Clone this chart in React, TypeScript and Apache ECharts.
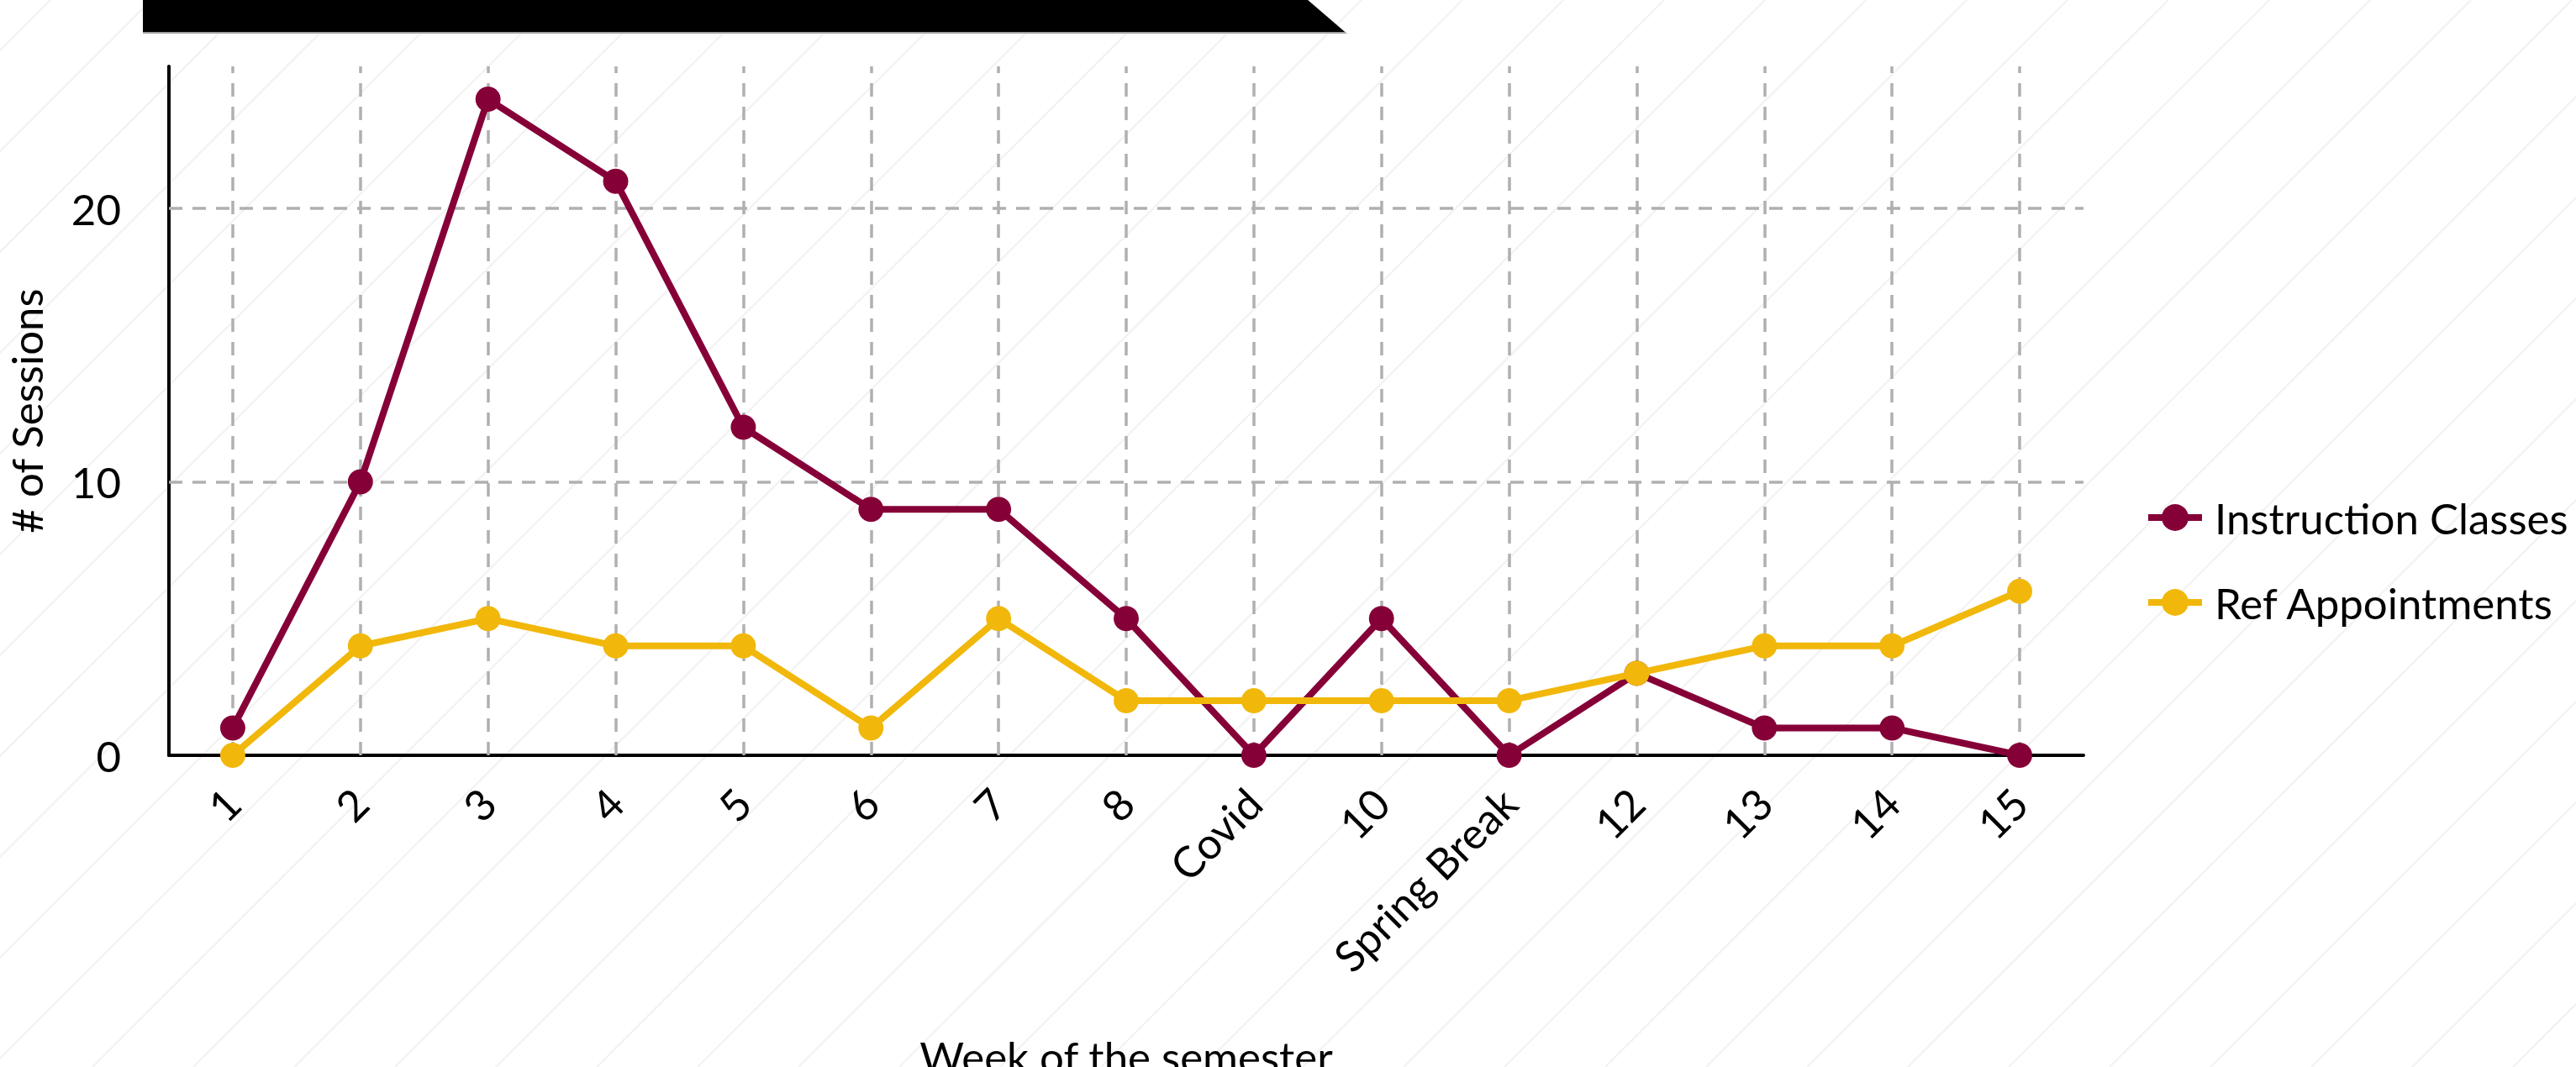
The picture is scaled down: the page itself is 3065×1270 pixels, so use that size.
import React, { useEffect, useRef } from 'react';
import * as echarts from 'echarts';

const weeks = ['1', '2', '3', '4', '5', '6', '7', '8', 'Covid', '10', 'Spring Break', '12', '13', '14', '15'];
const instructionClasses = [1, 10, 24, 21, 12, 9, 9, 5, 0, 5, 0, 3, 1, 1, 0];
const refAppointments = [0, 4, 5, 4, 4, 1, 5, 2, 2, 2, 2, 3, 4, 4, 6];
const yGridValues = [10, 20];
const seriesNames = ['Instruction Classes', 'Ref Appointments'];
const seriesColors = ['#860038', '#f1b80b'];

const W = 3065;
const H = 1270;
const FONT = 'Lato, "Noto Sans", sans-serif';

export default function App() {
  const ref = useRef<HTMLDivElement>(null);

  useEffect(() => {
    const chart = echarts.init(ref.current!, null, { renderer: 'svg', width: W, height: H });

    const bgLines: any[] = [];
    for (let c = 60; c < W + H + 120; c += 120) {
      bgLines.push({
        type: 'line',
        z: -10,
        silent: true,
        shape: { x1: c, y1: 0, x2: c - H, y2: H },
        style: { stroke: '#f3f3f3', lineWidth: 2.4 },
      });
    }

    const dash = { type: [16, 12], color: '#b0b0b0', width: 3.5 };
    const txt = { fontFamily: FONT, fontSize: 51, color: '#000', lineHeight: 52 };

    const option: any = {
      animation: false,
      backgroundColor: '#ffffff',
      textStyle: { fontFamily: FONT },
      graphic: [
        ...bgLines,
        {
          type: 'polygon',
          z: 10,
          silent: true,
          shape: { points: [[170, 0], [1556, 0], [1603, 40], [170, 40]] },
          style: { fill: '#a0a0a0' },
        },
        {
          type: 'polygon',
          z: 11,
          silent: true,
          shape: { points: [[170, 0], [1556, 0], [1600, 38], [170, 38]] },
          style: { fill: '#000000' },
        },
      ],
      grid: {
        left: 201,
        right: W - 2479,
        top: 79,
        bottom: H - 899,
        containLabel: false,
        outerBoundsMode: 'none',
      },
      legend: {
        orient: 'vertical',
        left: 2547,
        top: 585,
        itemWidth: 64,
        itemHeight: 40,
        itemGap: 49,
        lineStyle: { width: 8 },
        textStyle: { ...txt, padding: [0, 0, 0, 10] },
        data: seriesNames,
      },
      xAxis: {
        type: 'category',
        data: weeks,
        boundaryGap: true,
        axisLine: { show: true, lineStyle: { color: '#000', width: 4 } },
        axisTick: { show: false },
        axisLabel: {
          interval: 0,
          rotate: 45,
          margin: 48,
          verticalAlign: 'middle',
          ...txt,
        },
        splitLine: { show: false },
        name: 'Week of the semester',
        nameLocation: 'middle',
        nameGap: 332,
        nameTextStyle: { ...txt },
      },
      yAxis: {
        type: 'value',
        min: 0,
        max: 25.2,
        interval: 10,
        axisLine: { show: true, lineStyle: { color: '#000', width: 4 } },
        axisTick: { show: false },
        axisLabel: {
          margin: 57,
          ...txt,
          formatter: (v: number) => (v % 10 === 0 ? String(v) : ''),
        },
        splitLine: { show: false },
        name: '# of Sessions',
        nameLocation: 'middle',
        nameGap: 144,
        nameTextStyle: { ...txt },
      },
      series: [
        {
          name: seriesNames[0],
          type: 'line',
          data: instructionClasses,
          symbol: 'circle',
          symbolSize: 30,
          showSymbol: true,
          z: 3,
          lineStyle: { color: seriesColors[0], width: 8 },
          itemStyle: { color: seriesColors[0] },
          markLine: {
            z: 1,
            silent: true,
            animation: false,
            symbol: ['none', 'none'],
            label: { show: false },
            emphasis: { disabled: true },
            lineStyle: dash,
            data: [
              ...yGridValues.map((v) => ({ yAxis: v })),
              ...weeks.map((_, i) => ({ xAxis: i })),
            ],
          },
        },
        {
          name: seriesNames[1],
          type: 'line',
          data: refAppointments,
          symbol: 'circle',
          symbolSize: 30,
          showSymbol: true,
          z: 4,
          lineStyle: { color: seriesColors[1], width: 8 },
          itemStyle: { color: seriesColors[1] },
        },
      ],
    };

    chart.setOption(option);
    return () => chart.dispose();
  }, []);

  return (
    <div
      ref={ref}
      style={{ position: 'fixed', left: 0, top: 0, width: W, height: H, background: '#fff' }}
    />
  );
}
